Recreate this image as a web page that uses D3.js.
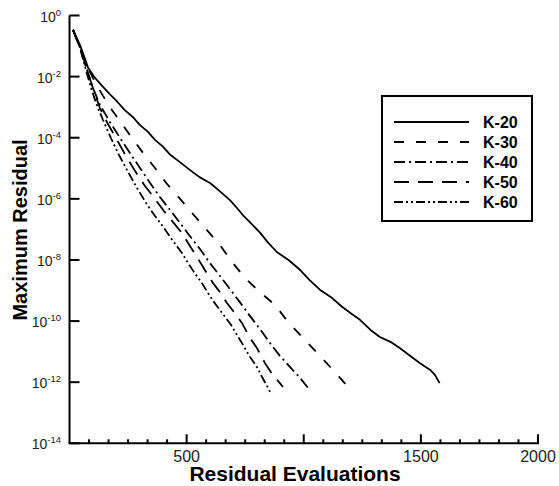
<!DOCTYPE html>
<html><head><meta charset="utf-8">
<script src="https://cdn.jsdelivr.net/npm/d3@7"></script>
<style>body{margin:0;background:#fff}svg{display:block}</style>
</head><body><svg id="c" width="559" height="486"></svg>
<script>
// ---- data ----
const seriesNames = ["K-20", "K-30", "K-40", "K-50", "K-60"];

const k20Evals  = [15,45,80,110,140,175,205,235,270,300,335,365,400,430,470,515,555,600,640,685,715,740,770,815,845,885,935,985,1025,1070,1120,1165,1205,1240,1285,1325,1370,1410,1455,1495,1540,1560,1580];
const k20LogRes = [-0.47,-0.97,-1.72,-2.05,-2.31,-2.60,-2.83,-3.09,-3.32,-3.58,-3.81,-4.07,-4.30,-4.56,-4.79,-5.06,-5.29,-5.48,-5.74,-6.04,-6.30,-6.53,-6.76,-7.12,-7.41,-7.74,-8.00,-8.33,-8.66,-8.98,-9.24,-9.54,-9.77,-9.96,-10.29,-10.52,-10.68,-10.88,-11.14,-11.37,-11.60,-11.76,-12.03];

const k30Evals  = [15,45,79,109,143,181,224,267,314,365,416,472,523,578,642,694,753,817,877,933,997,1057,1121,1185,1197];
const k30LogRes = [-0.47,-1.03,-1.72,-2.18,-2.63,-3.09,-3.55,-4.01,-4.50,-4.99,-5.51,-6.00,-6.46,-6.95,-7.51,-8.07,-8.62,-9.08,-9.47,-10.03,-10.55,-11.04,-11.57,-12.12,-12.22];

const k40Evals  = [15,45,75,100,130,173,216,258,301,344,386,429,472,514,557,599,642,685,727,770,813,856,898,941,984,1022];
const k40LogRes = [-0.47,-1.06,-1.78,-2.37,-2.93,-3.49,-4.01,-4.50,-4.99,-5.48,-5.94,-6.36,-6.79,-7.22,-7.64,-8.10,-8.52,-8.95,-9.38,-9.83,-10.26,-10.72,-11.14,-11.50,-11.86,-12.22];

const k50Evals  = [15,45,75,100,130,164,203,241,280,322,365,403,442,480,514,544,578,612,642,672,706,736,770,800,834,868,898,911];
const k50LogRes = [-0.47,-1.06,-1.78,-2.37,-3.03,-3.55,-4.07,-4.60,-5.09,-5.58,-6.00,-6.40,-6.76,-7.12,-7.54,-7.90,-8.33,-8.75,-9.05,-9.41,-9.74,-10.06,-10.55,-10.88,-11.37,-11.76,-12.03,-12.16];

const k60Evals  = [15,45,70,92,113,143,177,211,250,288,327,365,403,442,480,506,531,565,591,617,642,668,690,710,736,770,800,822,843,856];
const k60LogRes = [-0.47,-1.06,-1.78,-2.37,-2.86,-3.42,-4.01,-4.56,-5.12,-5.64,-6.14,-6.56,-6.95,-7.38,-7.77,-8.10,-8.39,-8.75,-9.08,-9.38,-9.64,-9.90,-10.13,-10.39,-10.72,-11.17,-11.50,-11.83,-12.12,-12.32];

const xMajorTicks  = [500, 1000, 1500, 2000];
const xTickLabels  = ["500", "", "1500", "2000"]; // the 1000 label is hidden under the axis title in the reference
const xMinorStep   = 500 / 6;
const yTickExponents = [0, -2, -4, -6, -8, -10, -12, -14];

// ---- layout ----
const svg = d3.select("#c");
const x = d3.scaleLinear().domain([0, 2000]).range([69.5, 538]);
const y = d3.scaleLog().domain([1e-14, 1]).range([443.3, 15.5]);
const font = "'Liberation Sans', Arial, Helvetica, sans-serif";

const series = [
  {name: seriesNames[0], ev: k20Evals, lr: k20LogRes, dash: null},
  {name: seriesNames[1], ev: k30Evals, lr: k30LogRes, dash: "10,12"},
  {name: seriesNames[2], ev: k40Evals, lr: k40LogRes, dash: "11,4,2,4"},
  {name: seriesNames[3], ev: k50Evals, lr: k50LogRes, dash: "15,9"},
  {name: seriesNames[4], ev: k60Evals, lr: k60LogRes, dash: "9,3,2,3,2,3"}
];

const line = d3.line().x(d => x(d[0])).y(d => y(d[1]));

const plot = svg.append("g");
series.forEach(s => {
  const pts = s.ev.map((e, i) => [e, Math.pow(10, s.lr[i])]);
  plot.append("path").attr("d", line(pts))
    .attr("fill", "none").attr("stroke", "#000").attr("stroke-width", 1.8)
    .attr("stroke-linejoin", "round")
    .attr("stroke-dasharray", s.dash);
});

// ---- axes ----
const ax = svg.append("g").attr("stroke", "#000").attr("fill", "none");
ax.append("line").attr("x1", x(0)).attr("x2", x(0)).attr("y1", y(1)).attr("y2", y(1e-14)).attr("stroke-width", 2);
ax.append("line").attr("x1", x(0) - 1).attr("x2", x(2000) + 1).attr("y1", y(1e-14)).attr("y2", y(1e-14)).attr("stroke-width", 2);

// y ticks (inward)
yTickExponents.forEach(e => {
  const yy = y(Math.pow(10, e));
  ax.append("line").attr("x1", x(0)).attr("x2", x(0) + 10).attr("y1", yy).attr("y2", yy).attr("stroke-width", 2);
  const t = svg.append("text").attr("x", 61).attr("y", yy + 6)
    .attr("text-anchor", "end").attr("font-family", font).attr("font-size", 14).attr("fill", "#222");
  t.append("tspan").text("10");
  t.append("tspan").attr("dy", -6).attr("font-size", 9.5).text(String(e));
});

// x ticks (inward)
const yb = y(1e-14);
d3.range(1, 25).forEach(i => {
  const v = i * xMinorStep;
  const major = i % 6 === 0;
  ax.append("line").attr("x1", x(v)).attr("x2", x(v)).attr("y1", yb).attr("y2", yb - (major ? 9 : 4)).attr("stroke-width", 2);
});
xMajorTicks.forEach((v, i) => {
  if (!xTickLabels[i]) return;
  svg.append("text").attr("x", x(v)).attr("y", 462).attr("text-anchor", "middle")
    .attr("font-family", font).attr("font-size", 16).attr("fill", "#222").text(xTickLabels[i]);
});

// titles
svg.append("text").attr("x", 295).attr("y", 480.5).attr("text-anchor", "middle")
  .attr("font-family", font).attr("font-size", 21).attr("font-weight", "bold").text("Residual Evaluations");
svg.append("text").attr("transform", "translate(27,230) rotate(-90)").attr("text-anchor", "middle")
  .attr("font-family", font).attr("font-size", 20).attr("font-weight", "bold").text("Maximum Residual");

// legend
const lg = svg.append("g");
lg.append("rect").attr("x", 382).attr("y", 96).attr("width", 150).attr("height", 125)
  .attr("fill", "#fff").attr("stroke", "#000").attr("stroke-width", 2);
series.forEach((s, i) => {
  const ly = 122 + i * 20;
  lg.append("line").attr("x1", 394).attr("x2", 469).attr("y1", ly).attr("y2", ly)
    .attr("stroke", "#000").attr("stroke-width", 1.8).attr("stroke-dasharray", s.dash);
  lg.append("text").attr("x", 483).attr("y", ly + 6).attr("font-family", font)
    .attr("font-size", 16).attr("font-weight", "bold").text(s.name);
});
</script>
</body></html>
